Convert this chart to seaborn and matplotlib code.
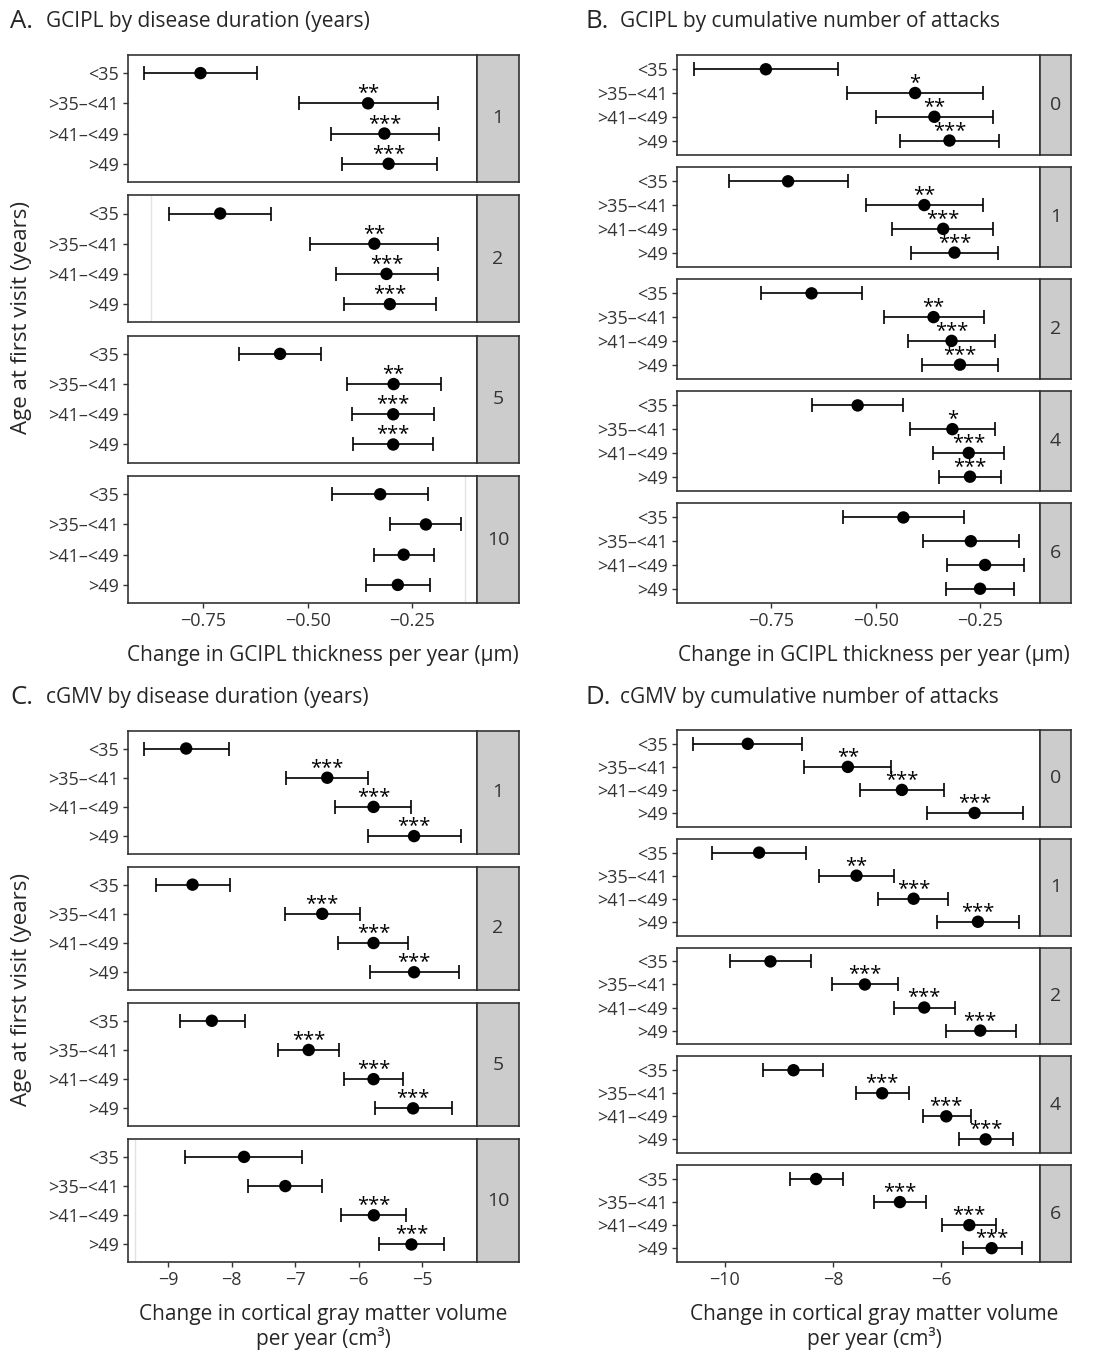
import matplotlib
matplotlib.use("Agg")
import matplotlib.pyplot as plt
import matplotlib.transforms as mtransforms
import seaborn as sns
import pandas as pd

W, H = 1097, 1352

ages = ["<35", ">35\u2013<41", ">41\u2013<49", ">49"]

### A. GCIPL by disease duration (rows: duration facets, cols: age groups)
gd_levels = ["1", "2", "5", "10"]
gd_est = [[-0.756, -0.356, -0.317, -0.307],
          [-0.709, -0.341, -0.312, -0.304],
          [-0.566, -0.295, -0.296, -0.296],
          [-0.327, -0.218, -0.271, -0.285]]
gd_lo = [[-0.891, -0.521, -0.444, -0.419],
         [-0.830, -0.495, -0.433, -0.414],
         [-0.663, -0.407, -0.395, -0.393],
         [-0.441, -0.303, -0.342, -0.361]]
gd_hi = [[-0.620, -0.190, -0.187, -0.192],
         [-0.587, -0.190, -0.190, -0.195],
         [-0.469, -0.181, -0.198, -0.200],
         [-0.214, -0.133, -0.199, -0.208]]
gd_sig = [["", "**", "***", "***"],
          ["", "**", "***", "***"],
          ["", "**", "***", "***"],
          ["", "", "", ""]]
gd_faint = {"2": -0.874, "10": -0.125}

### B. GCIPL by cumulative number of attacks
ga_levels = ["0", "1", "2", "4", "6"]
ga_est = [[-0.762, -0.406, -0.360, -0.324],
          [-0.709, -0.384, -0.339, -0.312],
          [-0.653, -0.362, -0.319, -0.299],
          [-0.543, -0.317, -0.278, -0.275],
          [-0.434, -0.273, -0.239, -0.251]]
ga_lo = [[-0.934, -0.568, -0.499, -0.442],
         [-0.850, -0.524, -0.461, -0.415],
         [-0.773, -0.481, -0.424, -0.389],
         [-0.651, -0.418, -0.363, -0.350],
         [-0.579, -0.386, -0.329, -0.333]]
ga_hi = [[-0.590, -0.245, -0.221, -0.205],
         [-0.565, -0.245, -0.219, -0.209],
         [-0.533, -0.242, -0.215, -0.209],
         [-0.436, -0.216, -0.195, -0.200],
         [-0.289, -0.159, -0.147, -0.170]]
ga_sig = [["", "*", "**", "***"],
          ["", "**", "***", "***"],
          ["", "**", "***", "***"],
          ["", "*", "***", "***"],
          ["", "", "", ""]]

### C. cGMV by disease duration
cd_levels = ["1", "2", "5", "10"]
cd_est = [[-8.713, -6.496, -5.769, -5.132],
          [-8.613, -6.575, -5.769, -5.132],
          [-8.310, -6.788, -5.769, -5.147],
          [-7.803, -7.155, -5.764, -5.173]]
cd_lo = [[-9.376, -7.149, -6.371, -5.853],
         [-9.194, -7.160, -6.324, -5.827],
         [-8.807, -7.270, -6.239, -5.743],
         [-8.724, -7.736, -6.277, -5.685]]
cd_hi = [[-8.043, -5.858, -5.173, -4.388],
         [-8.027, -5.988, -5.220, -4.430],
         [-7.792, -6.308, -5.304, -4.540],
         [-6.889, -6.575, -5.262, -4.666]]
cd_sig = [["", "***", "***", "***"],
          ["", "***", "***", "***"],
          ["", "***", "***", "***"],
          ["", "", "***", "***"]]
cd_faint = {"10": -9.513}

### D. cGMV by cumulative number of attacks
ca_levels = ["0", "1", "2", "4", "6"]
ca_est = [[-9.574, -7.722, -6.722, -5.377],
          [-9.364, -7.562, -6.506, -5.315],
          [-9.154, -7.407, -6.309, -5.272],
          [-8.728, -7.087, -5.901, -5.173],
          [-8.309, -6.759, -5.475, -5.062]]
ca_lo = [[-10.580, -8.531, -7.494, -6.265],
         [-10.235, -8.265, -7.173, -6.080],
         [-9.895, -8.012, -6.870, -5.907],
         [-9.290, -7.574, -6.340, -5.660],
         [-8.796, -7.241, -5.988, -5.599]]
ca_hi = [[-8.568, -6.920, -5.944, -4.475],
         [-8.494, -6.864, -5.864, -4.556],
         [-8.407, -6.796, -5.747, -4.617],
         [-8.173, -6.593, -5.451, -4.667],
         [-7.809, -6.272, -4.981, -4.506]]
ca_sig = [["", "**", "***", "***"],
          ["", "**", "***", "***"],
          ["", "***", "***", "***"],
          ["", "***", "***", "***"],
          ["", "***", "***", "***"]]

gcipl_label = "Change in GCIPL thickness per year (\u03bcm)"
cgmv_label = "Change in cortical gray matter volume\nper year (cm\u00b3)"
age_label = "Age at first visit (years)"

sns.set_theme(style="white")
plt.rcParams['font.family'] = ['Open Sans', 'DejaVu Sans']

INK = '#333333'
fig = plt.figure(figsize=(W / 100, H / 100), dpi=100)


def px_axes(x0, y0, x1, y1):
    return fig.add_axes([x0 / W, 1 - y1 / H, (x1 - x0) / W, (y1 - y0) / H])


def to_df(levels, est, lo, hi, sig):
    rows = []
    for i, lev in enumerate(levels):
        for j, age in enumerate(ages):
            rows.append(dict(level=lev, age=age, pos=j, est=est[i][j],
                             lo=lo[i][j], hi=hi[i][j], sig=sig[i][j]))
    return pd.DataFrame(rows)


### one stacked facet column with a grey strip on the right
def draw_panel(df, levels, xlim, xticks, x0, x1, strip_w, top, bottom, gap, faint={}):
    n = len(levels)
    h = (bottom - top - gap * (n - 1)) / n
    for i, lev in enumerate(levels):
        y0 = top + i * (h + gap)
        ax = px_axes(x0, y0, x1, y0 + h)
        sub = df[df.level == lev]
        if lev in faint:
            ax.axvline(faint[lev], color='#e2e2e2', lw=1, zorder=0)
        ax.errorbar(sub.est, sub.pos, xerr=[sub.est - sub.lo, sub.hi - sub.est],
                    fmt='none', ecolor='black', elinewidth=1.2, capsize=5,
                    capthick=1.2, zorder=2)
        sns.scatterplot(data=sub, x='est', y='pos', color='black', s=80,
                        edgecolor='none', ax=ax, zorder=3, legend=False)
        # stars sit a fixed few pixels above the point
        star_tr = mtransforms.offset_copy(ax.transData, fig=fig, y=5, units='dots')
        for _, r in sub.iterrows():
            if r.sig:
                ax.text(r.est, r.pos, r.sig, ha='center', va='baseline',
                        fontsize=14.5, color='black', transform=star_tr)
        ax.set_xlim(xlim)
        ax.set_ylim(3.6, -0.6)
        ax.set_yticks(range(len(ages)))
        ax.set_yticklabels(ages, fontsize=13, color=INK)
        ax.set_xlabel('')
        ax.set_ylabel('')
        ax.tick_params(axis='y', direction='out', length=3.5, width=1, pad=3, color=INK, left=True)
        if i == n - 1:
            ax.set_xticks(xticks)
            ax.set_xticklabels([f"{t:.2f}".replace('-', '\u2212') if abs(t) < 1
                                else f"{t:g}".replace('-', '\u2212') for t in xticks],
                               fontsize=13, color=INK)
            ax.tick_params(axis='x', direction='out', length=3.5, width=1, pad=3, color=INK, bottom=True)
        else:
            ax.set_xticks([])
        for s in ax.spines.values():
            s.set_color(INK)
            s.set_linewidth(1.2)
        st = px_axes(x1, y0, x1 + strip_w, y0 + h)
        st.set_facecolor('#cccccc')
        st.set_xticks([])
        st.set_yticks([])
        for s in st.spines.values():
            s.set_color(INK)
            s.set_linewidth(1.2)
        st.text(0.5, 0.5, lev, ha='center', va='center', fontsize=14,
                color=INK, transform=st.transAxes)


def title(x_letter, x_text, y, letter, text):
    fig.text(x_letter / W, 1 - y / H, letter, fontsize=18.5, va='center', ha='left')
    fig.text(x_text / W, 1 - y / H, text, fontsize=15, va='center', ha='left')


draw_panel(to_df(gd_levels, gd_est, gd_lo, gd_hi, gd_sig), gd_levels,
           (-0.929, -0.096), [-0.75, -0.50, -0.25], 128, 477, 42, 55, 603, 13.5, gd_faint)
draw_panel(to_df(ga_levels, ga_est, ga_lo, ga_hi, ga_sig), ga_levels,
           (-0.974, -0.108), [-0.75, -0.50, -0.25], 677, 1040, 31, 55, 603, 12.25)
draw_panel(to_df(cd_levels, cd_est, cd_lo, cd_hi, cd_sig), cd_levels,
           (-9.627, -4.143), [-9, -8, -7, -6, -5], 128, 477, 42, 731, 1262, 13.5, cd_faint)
draw_panel(to_df(ca_levels, ca_est, ca_lo, ca_hi, ca_sig), ca_levels,
           (-10.883, -4.167), [-10, -8, -6], 677, 1040, 31, 730, 1262, 12)

title(10, 46, 21, "A.", "GCIPL by disease duration (years)")
title(585, 620, 21, "B.", "GCIPL by cumulative number of attacks")
title(10, 46, 697, "C.", "cGMV by disease duration (years)")
title(585, 620, 697, "D.", "cGMV by cumulative number of attacks")

fig.text(323 / W, 1 - 655 / H, gcipl_label, fontsize=15, ha='center', va='center')
fig.text(874 / W, 1 - 655 / H, gcipl_label, fontsize=15, ha='center', va='center')
fig.text(323 / W, 1 - 1327 / H, cgmv_label, fontsize=15, ha='center', va='center',
         linespacing=1.15)
fig.text(874 / W, 1 - 1327 / H, cgmv_label, fontsize=15, ha='center', va='center',
         linespacing=1.15)

fig.text(22 / W, 1 - 318 / H, age_label, fontsize=16, rotation=90, ha='center', va='center')
fig.text(22 / W, 1 - 990 / H, age_label, fontsize=16, rotation=90, ha='center', va='center')

fig.savefig('out.png', dpi=100)
